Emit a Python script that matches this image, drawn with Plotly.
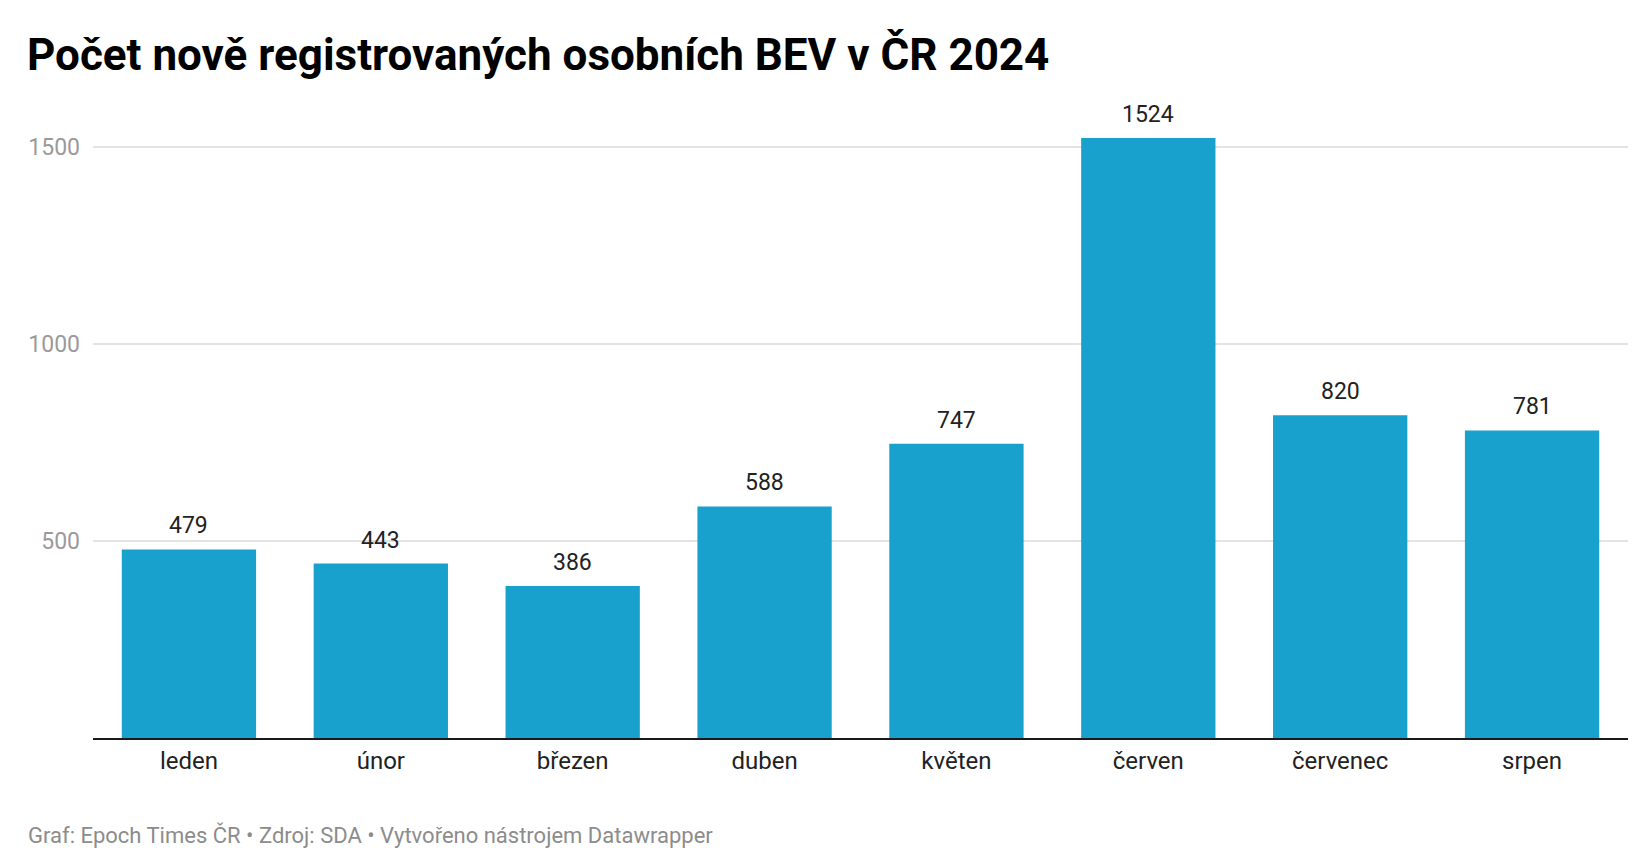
import plotly.graph_objects as go

months = ["leden", "únor", "březen", "duben", "květen", "červen", "červenec", "srpen"]
values = [479, 443, 386, 588, 747, 1524, 820, 781]
y_ticks = [500, 1000, 1500]

title_text = "Počet nově registrovaných osobních BEV v ČR 2024"
footer_text = "Graf: Epoch Times ČR • Zdroj: SDA • Vytvořeno nástrojem Datawrapper"

fig = go.Figure()
fig.add_trace(go.Bar(
    x=months, y=values,
    marker=dict(color="#18a1cd", line=dict(width=0)),
    hoverinfo="x+y",
))

for m, v in zip(months, values):
    fig.add_annotation(
        x=m, y=v, text=str(v), showarrow=False,
        yanchor="bottom", yshift=8,
        font=dict(family="Roboto", size=23, color="#222222"),
    )

fig.add_annotation(
    xref="paper", yref="paper", x=-0.0443, y=1.0, yshift=53,
    text="<b>" + title_text + "</b>", showarrow=False,
    xanchor="left", yanchor="middle",
    font=dict(family="Roboto", size=44, color="#000000"),
)
fig.add_annotation(
    xref="paper", yref="paper", x=-0.0436, y=0, yshift=-97,
    text=footer_text, showarrow=False,
    xanchor="left", yanchor="middle",
    font=dict(family="Roboto", size=22, color="#8c8c8c"),
)

fig.update_layout(
    width=1640, height=860,
    margin=dict(l=85, r=20, t=100, b=130),
    paper_bgcolor="white", plot_bgcolor="white",
    bargap=0.3,
    showlegend=False,
    xaxis=dict(
        showgrid=False, showline=True, linecolor="#1a1a1a", linewidth=2,
        ticks="", tickfont=dict(family="Roboto", size=24, color="#222222"),
        fixedrange=True,
    ),
    yaxis=dict(
        range=[0, 1600], tickvals=y_ticks, showgrid=True, gridcolor="#e3e3e3",
        gridwidth=1.5, zeroline=False, showline=False, ticks="",
        tickfont=dict(family="Roboto", size=23, color="#9a9a9a"),
        ticklabelstandoff=12, fixedrange=True,
    ),
)

fig.write_html("out.html")
